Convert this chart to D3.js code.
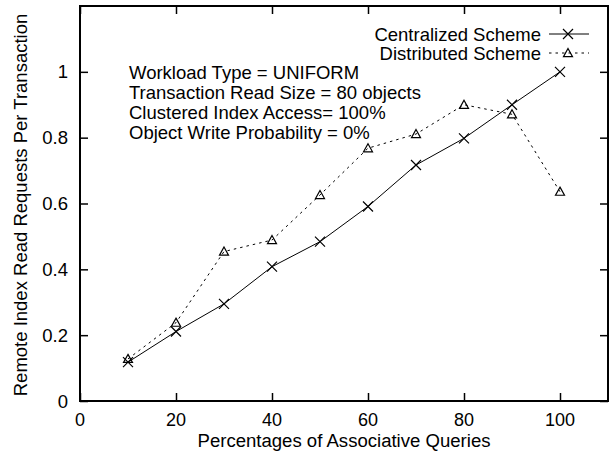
<!DOCTYPE html>
<html>
<head>
<meta charset="utf-8">
<script src="https://cdn.jsdelivr.net/npm/d3@7"></script>
<style>
  html, body { margin: 0; padding: 0; background: #fff; }
  svg { display: block; font-family: "Liberation Sans", Arial, Helvetica, sans-serif; }
</style>
</head>
<body>
<svg id="chart" width="613" height="452"></svg>
<script>
// ---- data ----
const xValues = [10, 20, 30, 40, 50, 60, 70, 80, 90, 100];
const centralized = [0.118, 0.211, 0.295, 0.408, 0.484, 0.591, 0.717, 0.798, 0.90, 1.0];
const distributed = [0.128, 0.238, 0.454, 0.489, 0.626, 0.768, 0.811, 0.90, 0.871, 0.636];
const seriesNames = ["Centralized Scheme", "Distributed Scheme"];
const xTicks = [0, 20, 40, 60, 80, 100];
const yTicks = [0, 0.2, 0.4, 0.6, 0.8, 1];
const annotations = [
  "Workload Type = UNIFORM",
  "Transaction Read Size = 80 objects",
  "Clustered Index Access= 100%",
  "Object Write Probability = 0%"
];
const xTitle = "Percentages of Associative Queries";
const yTitle = "Remote Index Read Requests Per Transaction";

// ---- layout ----
const W = 613, H = 452;
const m = { left: 80, right: 5, top: 6, bottom: 51 };
const svg = d3.select("#chart");
const x = d3.scaleLinear().domain([0, 110]).range([m.left, W - m.right]);
const y = d3.scaleLinear().domain([0, 1.2]).range([H - m.bottom, m.top]);
const fs = 18.5;
const fsX = 18;

// ticks (inward, mirrored)
const tickLen = 8;
const g = svg.append("g");
g.append("g").attr("transform", `translate(0,${y(0)})`)
  .call(d3.axisTop(x).tickValues(xTicks).tickSize(tickLen).tickFormat(""))
  .call(s => s.select(".domain").remove());
g.append("g").attr("transform", `translate(0,${y(1.2)})`)
  .call(d3.axisBottom(x).tickValues(xTicks).tickSize(tickLen).tickFormat(""))
  .call(s => s.select(".domain").remove());
g.append("g").attr("transform", `translate(${x(0)},0)`)
  .call(d3.axisRight(y).tickValues(yTicks).tickSize(tickLen).tickFormat(""))
  .call(s => s.select(".domain").remove());
g.append("g").attr("transform", `translate(${x(110)},0)`)
  .call(d3.axisLeft(y).tickValues(yTicks).tickSize(tickLen).tickFormat(""))
  .call(s => s.select(".domain").remove());
g.selectAll(".tick line").attr("stroke", "#000").attr("stroke-width", 1.5);

// tick labels
svg.append("g").selectAll("text").data(xTicks).join("text")
  .attr("x", d => x(d)).attr("y", y(0) + 25)
  .attr("text-anchor", "middle").attr("font-size", fsX)
  .text(d => d);
svg.append("g").selectAll("text").data(yTicks).join("text")
  .attr("x", x(0) - 12).attr("y", d => y(d) + 6.5)
  .attr("text-anchor", "end").attr("font-size", fs)
  .text(d => d3.format("~g")(d));

// frame
svg.append("rect")
  .attr("x", x(0)).attr("y", y(1.2))
  .attr("width", x(110) - x(0)).attr("height", y(0) - y(1.2))
  .attr("fill", "none").attr("stroke", "#000").attr("stroke-width", 2);

// axis titles
svg.append("text")
  .attr("x", 344).attr("y", 447)
  .attr("text-anchor", "middle").attr("font-size", fsX)
  .attr("textLength", 293).attr("lengthAdjust", "spacingAndGlyphs")
  .text(xTitle);
svg.append("text")
  .attr("transform", `translate(27,205) rotate(-90)`)
  .attr("text-anchor", "middle").attr("font-size", fs)
  .text(yTitle);

// annotation
svg.append("g").selectAll("text").data(annotations).join("text")
  .attr("x", 129).attr("y", (d, i) => 78.5 + i * 20)
  .attr("font-size", fs)
  .text(d => d);

// lines
const line = d3.line().x(d => x(d[0])).y(d => y(d[1]));
const cData = xValues.map((v, i) => [v, centralized[i]]);
const dData = xValues.map((v, i) => [v, distributed[i]]);

svg.append("path").datum(dData).attr("d", line)
  .attr("fill", "none").attr("stroke", "#000").attr("stroke-width", 1)
  .attr("stroke-dasharray", "2.5,4");
svg.append("path").datum(cData).attr("d", line)
  .attr("fill", "none").attr("stroke", "#000").attr("stroke-width", 1);

// markers
function cross(sel, cx, cy, r) {
  sel.append("path")
    .attr("d", `M${cx - r},${cy - r}L${cx + r},${cy + r}M${cx - r},${cy + r}L${cx + r},${cy - r}`)
    .attr("stroke", "#000").attr("stroke-width", 1.2).attr("fill", "none");
}
function tri(sel, cx, cy, r) {
  sel.append("path")
    .attr("d", `M${cx},${cy - r}L${cx + r},${cy + r * 0.8}L${cx - r},${cy + r * 0.8}Z`)
    .attr("stroke", "#000").attr("stroke-width", 1.2).attr("fill", "none");
}
const mk = svg.append("g");
dData.forEach(d => tri(mk, x(d[0]), y(d[1]), 4.5));
cData.forEach(d => cross(mk, x(d[0]), y(d[1]), 5));

// legend
const lg = svg.append("g");
const legendY = [34, 53];
lg.selectAll("text").data(seriesNames).join("text")
  .attr("x", 541).attr("y", (d, i) => legendY[i] + 6.5)
  .attr("text-anchor", "end").attr("font-size", fs)
  .text(d => d);
lg.append("line").attr("x1", 549).attr("x2", 589).attr("y1", legendY[0]).attr("y2", legendY[0])
  .attr("stroke", "#000").attr("stroke-width", 1);
cross(lg, 568, legendY[0], 5);
lg.append("line").attr("x1", 549).attr("x2", 589).attr("y1", legendY[1]).attr("y2", legendY[1])
  .attr("stroke", "#000").attr("stroke-width", 1).attr("stroke-dasharray", "2.5,4");
tri(lg, 568, legendY[1], 4.5);
</script>
</body>
</html>
